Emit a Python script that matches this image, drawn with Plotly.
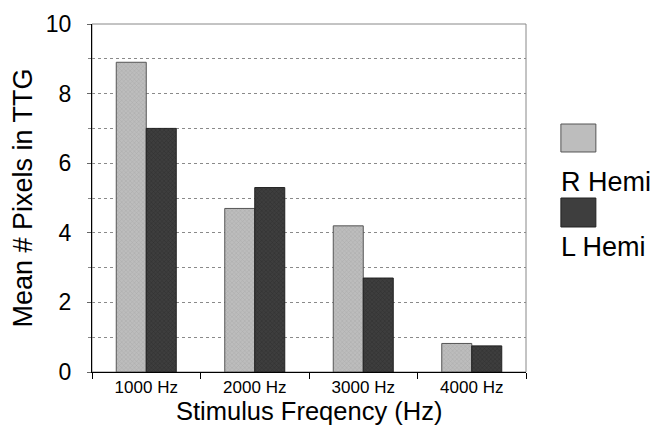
import plotly.graph_objects as go

categories = ["1000 Hz", "2000 Hz", "3000 Hz", "4000 Hz"]
r_hemi = [8.9, 4.7, 4.2, 0.82]
l_hemi = [7.0, 5.3, 2.7, 0.75]
series_names = ["R Hemi", "L Hemi"]
y_ticks = [0, 2, 4, 6, 8, 10]
x_title = "Stimulus Freqency (Hz)"
y_title = "Mean # Pixels in TTG"

LIGHT = "#bdbdbd"
DARK = "#3e3e3e"
FONT = "Liberation Sans, Arial, sans-serif"

fig = go.Figure()
fig.add_trace(go.Bar(
    x=categories, y=r_hemi, name=series_names[0],
    marker=dict(color=LIGHT, line=dict(color="#555", width=1),
                pattern=dict(shape="x", size=3, solidity=0.3, fgcolor="#949494", bgcolor=LIGHT)),
))
fig.add_trace(go.Bar(
    x=categories, y=l_hemi, name=series_names[1],
    marker=dict(color=DARK, line=dict(color="#222", width=1),
                pattern=dict(shape="x", size=3, solidity=0.3, fgcolor="#1e1e1e", bgcolor=DARK)),
))

fig.update_layout(
    width=655, height=425,
    margin=dict(l=92, r=129, t=24, b=53, autoexpand=False),
    paper_bgcolor="white", plot_bgcolor="white",
    barmode="group", bargap=0.447, bargroupgap=0,
    showlegend=False,
    font=dict(family=FONT, color="black"),
    xaxis=dict(
        type="category", automargin=False,
        showline=True, linecolor="black", linewidth=1,
        ticks="outside", tickson="boundaries", ticklen=6, tickcolor="black",
        tickfont=dict(size=17),
        ticklabelstandoff=0,
        showgrid=False,
    ),
    yaxis=dict(
        range=[0, 10], tickvals=y_ticks, automargin=False,
        showline=True, linecolor="black", linewidth=1,
        ticks="outside", ticklen=4, tickcolor="#666",
        tickfont=dict(size=23),
        ticklabelstandoff=11,
        showgrid=True, gridcolor="#8a8a8a", griddash="dot", gridwidth=1,
        minor=dict(dtick=1, showgrid=True, gridcolor="#8a8a8a", griddash="dot", gridwidth=1,
                   ticks="outside", ticklen=3, tickcolor="#888"),
        zeroline=False,
    ),
    shapes=[
        dict(type="rect", xref="paper", yref="paper", x0=0, x1=1, y0=0, y1=1,
             line=dict(color="#888", width=1), layer="below"),
        dict(type="rect", xref="paper", yref="paper", x0=1.0804, x1=1.161, y0=0.6322, y1=0.7126,
             fillcolor=LIGHT, line=dict(color="#555", width=1)),
        dict(type="rect", xref="paper", yref="paper", x0=1.0804, x1=1.161, y0=0.4167, y1=0.5,
             fillcolor=DARK, line=dict(color="#222", width=1)),
    ],
    annotations=[
        dict(text=series_names[0], xref="paper", yref="paper", x=1.076, y=0.545,
             xanchor="left", yanchor="middle", showarrow=False, font=dict(size=27)),
        dict(text=series_names[1], xref="paper", yref="paper", x=1.076, y=0.36,
             xanchor="left", yanchor="middle", showarrow=False, font=dict(size=27)),
        dict(text=x_title, xref="paper", yref="paper", x=0.5, y=-0.1135,
             xanchor="center", yanchor="middle", showarrow=False, font=dict(size=25.5)),
        dict(text=y_title, xref="paper", yref="paper", x=-0.16, y=0.5, textangle=-90,
             xanchor="center", yanchor="middle", showarrow=False, font=dict(size=27)),
    ],
)

fig.write_html("out.html", config={"displayModeBar": False},
               post_script="document.body.style.margin='0';document.body.style.padding='0';")
